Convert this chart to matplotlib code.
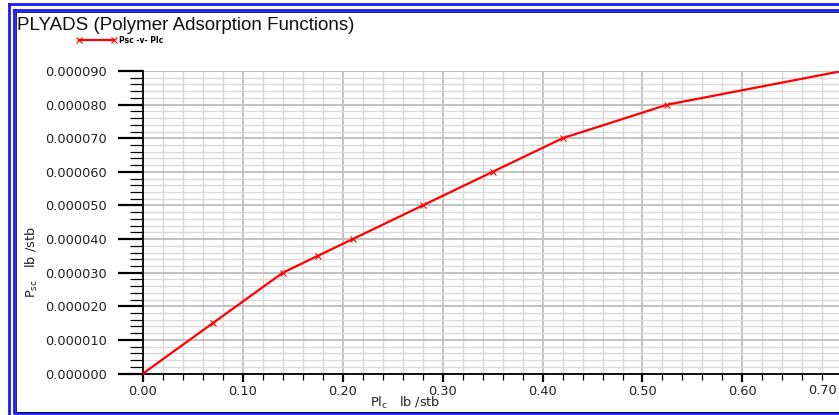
import numpy as np
import matplotlib
matplotlib.use("Agg")
import matplotlib.pyplot as plt
from matplotlib.ticker import MultipleLocator, FormatStrFormatter
from matplotlib.lines import Line2D

# data
plc = [0.0, 0.07, 0.14, 0.175, 0.21, 0.28, 0.35, 0.42, 0.525, 0.70]
psc = [0.0, 0.000015, 0.000030, 0.000035, 0.000040, 0.000050, 0.000060,
       0.000070, 0.000080, 0.000090]

title = "PLYADS (Polymer Adsorption Functions)"
series_name = "Psc -v- Plc"

W, H = 839, 415
fig = plt.figure(figsize=(W / 100, H / 100), dpi=100)

# axes box in pixels: left spine at x=143, bottom at y=373.5, top at y=71
ax = fig.add_axes([143 / W, (H - 373.5) / H, (W - 143) / W, (373.5 - 71) / H])

red = "#ff0000"
ax.plot(plc, psc, color=red, lw=1.6, marker="x", ms=4.5, mew=0.8,
        clip_on=True, zorder=5, label=series_name)

ax.set_xlim(0, (W - 142.3) / 1000)
ax.set_ylim(0, 0.000090)

ax.xaxis.set_major_locator(MultipleLocator(0.1))
ax.xaxis.set_minor_locator(MultipleLocator(0.02))
ax.yaxis.set_major_locator(MultipleLocator(0.00001))
ax.yaxis.set_minor_locator(MultipleLocator(0.000002))
ax.xaxis.set_major_formatter(FormatStrFormatter("%.2f"))
ax.yaxis.set_major_formatter(FormatStrFormatter("%.6f"))

ax.grid(which="minor", color="#dadada", lw=1.0)
ax.grid(which="major", color="#c2c2c2", lw=1.4)
ax.set_axisbelow(True)

for s in ["top", "right"]:
    ax.spines[s].set_visible(False)
for s in ["left", "bottom"]:
    ax.spines[s].set_linewidth(1.3)
    ax.spines[s].set_color("black")

tick_font = dict(family="DejaVu Sans", size=9.3)
ax.tick_params(axis="y", which="major", direction="out", length=18, width=1.6, pad=8)
ax.tick_params(axis="y", which="minor", direction="out", length=9.5, width=0.9)
ax.tick_params(axis="x", which="major", direction="out", length=6, width=1.6, pad=2)
ax.tick_params(axis="x", which="minor", direction="out", length=4, width=0.9)
for lab in ax.get_xticklabels() + ax.get_yticklabels():
    lab.set_fontfamily("DejaVu Sans")
    lab.set_fontsize(9.3)
    lab.set_color("#222222")

fig.canvas.draw()
xl = ax.get_xticklabels()
xl[0].set_horizontalalignment("left")
yl = ax.get_yticklabels()
yl[-1].set_verticalalignment("top")

# last x label is pulled inside the frame in the original
fig.text(837 / W, 1 - 384 / H, "0.70", ha="right", va="top", color="#222222",
         **tick_font)

# axis labels
fig.text(405 / W, 1 - 403 / H, r"Pl$_{\mathrm{c}}$   lb /stb", ha="center",
         va="center", color="#222222", **tick_font)
fig.text(32 / W, 1 - 262 / H, r"P$_{\mathrm{sc}}$   lb /stb", ha="center",
         va="center", rotation=90, color="#222222", **tick_font)

# title
fig.text(17 / W, 1 - 30 / H, title, ha="left", va="baseline",
         family="Liberation Sans", size=13.5, color="#111111")

# legend
ax.legend(loc="upper left", bbox_to_anchor=(77 / W, 1 - 36 / H),
          bbox_transform=fig.transFigure, frameon=False, numpoints=2,
          handlelength=5.2, handletextpad=0.3, borderpad=0, borderaxespad=0,
          prop=dict(family="DejaVu Sans", weight="bold", size=5.5))

# double blue border around the plot window
def frame(x0, y0, x1, y1, color, lw):
    xs = [x0, x1, x1, x0, x0]
    ys = [y0, y0, y1, y1, y0]
    fig.add_artist(Line2D([x / W for x in xs], [1 - y / H for y in ys],
                          transform=fig.transFigure, color=color, lw=lw))

frame(8.5, 4, W + 5, H + 5, "#1a1aff", 2.0)
frame(13.5, 10, W + 5, 413, "#1a1aff", 2.0)
frame(15.5, 12, W + 5, 411.5, "#000033", 0.6)

fig.savefig("out.png", dpi=100)
